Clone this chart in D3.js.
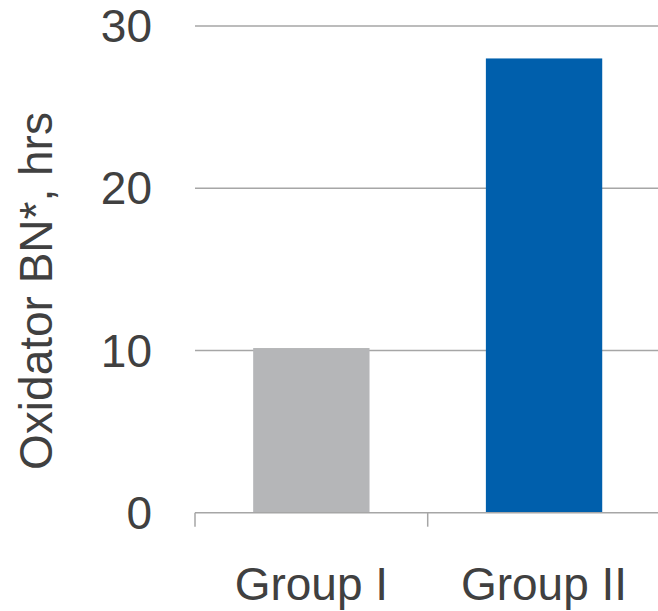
<!DOCTYPE html>
<html>
<head>
<meta charset="utf-8">
<script src="https://cdn.jsdelivr.net/npm/d3@7"></script>
<style>
body { margin: 0; background: #fff; }
svg text { font-family: "Liberation Sans", Arial, sans-serif; fill: #404040; }
</style>
</head>
<body>
<svg id="chart" width="658" height="611"></svg>
<script>
// bar chart: oxidator hours per group
var groups = ["Group I", "Group II"];
var hours = [10.15, 28];
var yTicks = [0, 10, 20, 30];
var barColors = ["#b5b6b8", "#005fac"];

var svg = d3.select("#chart");

var x = d3.scaleBand()
  .domain(groups)
  .range([195, 660.4])
  .paddingInner(0.5)
  .paddingOuter(0.25);

var y = d3.scaleLinear()
  .domain([0, 30])
  .range([512.7, 26]);

// gridlines
svg.selectAll(".grid")
  .data(yTicks.filter(function (d) { return d > 0; }))
  .enter().append("line")
  .attr("x1", 195)
  .attr("x2", 660)
  .attr("y1", function (d) { return y(d); })
  .attr("y2", function (d) { return y(d); })
  .style("stroke", "#a6a6a6")
  .style("stroke-width", 1.5);

// bars
svg.selectAll(".bar")
  .data(hours)
  .enter().append("rect")
  .attr("x", function (d, i) { return x(groups[i]); })
  .attr("width", x.bandwidth())
  .attr("y", function (d) { return y(d); })
  .attr("height", function (d) { return y(0) - y(d); })
  .style("fill", function (d, i) { return barColors[i]; });

// baseline and category ticks
svg.append("line")
  .attr("x1", 195)
  .attr("x2", 660)
  .attr("y1", y(0))
  .attr("y2", y(0))
  .style("stroke", "#a6a6a6")
  .style("stroke-width", 1.5);

var step = x.step();
var edges = [195, 195 + step, 195 + 2 * step];
svg.selectAll(".xtick")
  .data(edges)
  .enter().append("line")
  .attr("x1", function (d) { return d; })
  .attr("x2", function (d) { return d; })
  .attr("y1", y(0))
  .attr("y2", y(0) + 14)
  .style("stroke", "#a6a6a6")
  .style("stroke-width", 1.5);

// y tick labels
svg.selectAll(".ylabel")
  .data(yTicks)
  .enter().append("text")
  .text(function (d) { return d; })
  .attr("x", 152)
  .attr("y", function (d) { return y(d); })
  .attr("dy", "0.35em")
  .attr("text-anchor", "end")
  .attr("font-size", 46);

// category labels
svg.selectAll(".xlabel")
  .data(groups)
  .enter().append("text")
  .text(function (d) { return d; })
  .attr("x", function (d) { return x(d) + x.bandwidth() / 2; })
  .attr("y", 600)
  .attr("text-anchor", "middle")
  .attr("font-size", 46);

// y axis title
svg.append("text")
  .text("Oxidator BN*, hrs")
  .attr("transform", "translate(52,291) rotate(-90)")
  .attr("text-anchor", "middle")
  .attr("font-size", 46);
</script>
</body>
</html>
